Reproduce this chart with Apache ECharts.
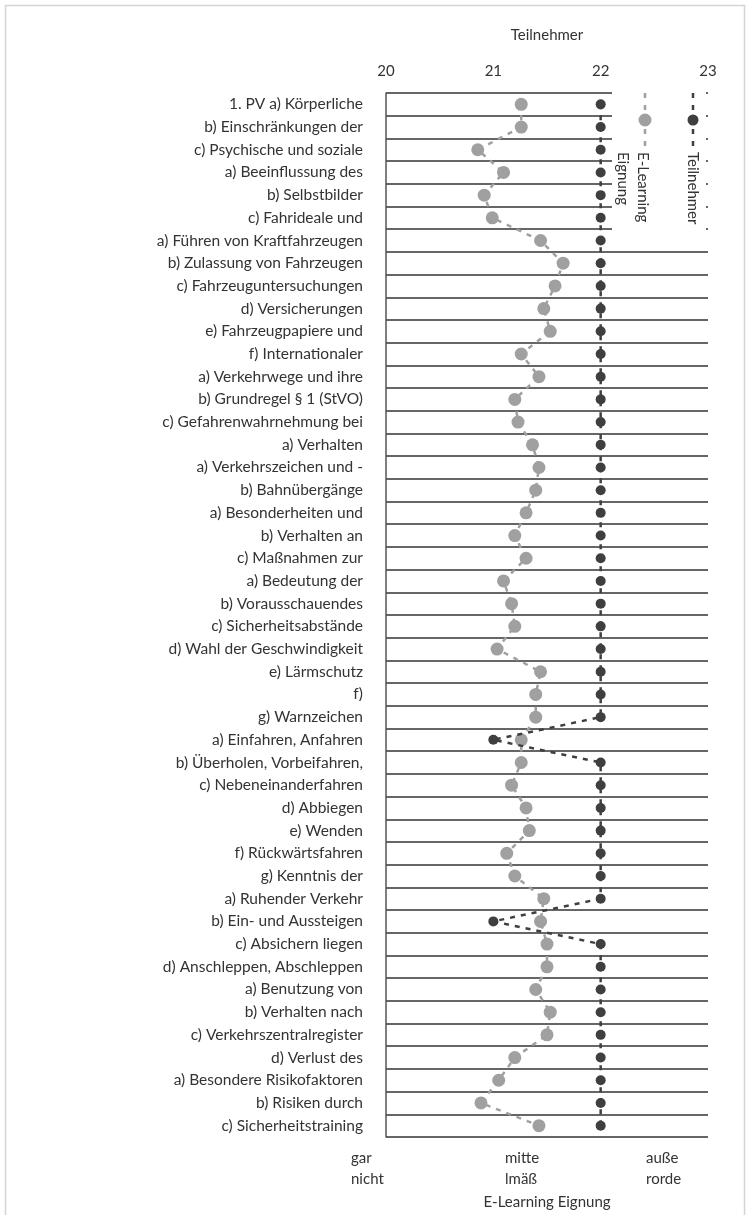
<!DOCTYPE html>
<html>
<head>
<meta charset="utf-8">
<script src="https://cdn.jsdelivr.net/npm/echarts@6/dist/echarts.min.js"></script>
<style>
  html, body { margin: 0; padding: 0; background: #ffffff; }
  #chart { width: 750px; height: 1215px; }
</style>
</head>
<body>
<div id="chart"></div>
<script>
// Lerninhalte (top to bottom)
const topics = [
  '1. PV a) Körperliche', 'b) Einschränkungen der', 'c) Psychische und soziale',
  'a) Beeinflussung des', 'b) Selbstbilder', 'c) Fahrideale und',
  'a) Führen von Kraftfahrzeugen', 'b) Zulassung von Fahrzeugen', 'c) Fahrzeuguntersuchungen',
  'd) Versicherungen', 'e) Fahrzeugpapiere und', 'f) Internationaler',
  'a) Verkehrwege und ihre', 'b) Grundregel § 1 (StVO)', 'c) Gefahrenwahrnehmung bei',
  'a) Verhalten', 'a) Verkehrszeichen und -', 'b) Bahnübergänge',
  'a) Besonderheiten und', 'b) Verhalten an', 'c) Maßnahmen zur',
  'a) Bedeutung der', 'b) Vorausschauendes', 'c) Sicherheitsabstände',
  'd) Wahl der Geschwindigkeit', 'e) Lärmschutz', 'f)',
  'g) Warnzeichen', 'a) Einfahren, Anfahren', 'b) Überholen, Vorbeifahren,',
  'c) Nebeneinanderfahren', 'd) Abbiegen', 'e) Wenden',
  'f) Rückwärtsfahren', 'g) Kenntnis der', 'a) Ruhender Verkehr',
  'b) Ein- und Aussteigen', 'c) Absichern liegen', 'd) Anschleppen, Abschleppen',
  'a) Benutzung von', 'b) Verhalten nach', 'c) Verkehrszentralregister',
  'd) Verlust des', 'a) Besondere Risikofaktoren', 'b) Risiken durch',
  'c) Sicherheitstraining'
];

// Mittlere E-Learning-Eignung (1 = gar nicht, 2 = mittelmäßig, 3 = außerordentlich)
const eLearning = [
  1.84, 1.84, 1.57, 1.73, 1.61, 1.66, 1.96, 2.10, 2.05, 1.98,
  2.02, 1.84, 1.95, 1.80, 1.82, 1.91, 1.95, 1.93, 1.87, 1.80,
  1.87, 1.73, 1.78, 1.80, 1.69, 1.96, 1.93, 1.93, 1.84, 1.84,
  1.78, 1.87, 1.89, 1.75, 1.80, 1.98, 1.96, 2.00, 2.00, 1.93,
  2.02, 2.00, 1.80, 1.70, 1.59, 1.95
];

// Anzahl Teilnehmer je Lerninhalt
const participants = [
  22, 22, 22, 22, 22, 22, 22, 22, 22, 22,
  22, 22, 22, 22, 22, 22, 22, 22, 22, 22,
  22, 22, 22, 22, 22, 22, 22, 22, 21, 22,
  22, 22, 22, 22, 22, 22, 21, 22, 22, 22,
  22, 22, 22, 22, 22, 22
];

// Beschriftung der Eignungsskala
const ratingLabels = { 1: 'gar\nnicht', 2: 'mitte\nlmäß', 3: 'auße\nrorde' };
const ratingStyle = { 1: 'a', 2: 'b', 3: 'c' };

const seriesNames = ['E-Learning Eignung', 'Teilnehmer'];
const colors = { eLearning: '#a0a0a0', participants: '#3f3f3f' };

const FONT = 'Lato';
const TEXT = '#333333';

const chart = echarts.init(document.getElementById('chart'), null, { renderer: 'canvas' });

chart.setOption({
  backgroundColor: '#ffffff',
  animation: false,
  textStyle: { fontFamily: FONT },
  grid: { left: 386, right: 42, top: 93, bottom: 78, containLabel: false, outerBoundsMode: 'none' },
  yAxis: {
    type: 'category',
    data: topics,
    inverse: true,
    boundaryGap: true,
    axisLine: { show: true, lineStyle: { color: '#555555', width: 1.5 } },
    axisTick: { show: false },
    axisLabel: { color: TEXT, fontSize: 15.5, fontFamily: FONT, margin: 23 },
    splitLine: { show: true, interval: 0, lineStyle: { color: '#333333', width: 1.6 } }
  },
  xAxis: [
    {
      type: 'value',
      position: 'top',
      min: 20, max: 23, interval: 1,
      name: 'Teilnehmer',
      nameLocation: 'middle',
      nameGap: 50,
      nameTextStyle: { color: TEXT, fontSize: 15, fontFamily: FONT },
      axisLine: { show: false },
      axisTick: { show: false },
      splitLine: { show: false },
      axisLabel: { color: TEXT, fontSize: 15, fontFamily: FONT, margin: 14 }
    },
    {
      type: 'value',
      position: 'bottom',
      min: 1, max: 3, interval: 1,
      name: 'E-Learning Eignung',
      nameLocation: 'middle',
      nameGap: 42,
      nameTextStyle: { color: TEXT, fontSize: 15, fontFamily: FONT },
      axisLine: { show: false },
      axisTick: { show: false },
      splitLine: { show: false },
      axisLabel: {
        color: TEXT, fontSize: 15, fontFamily: FONT, margin: 11,
        lineHeight: 21,
        formatter: v => {
          const key = ratingStyle[v];
          return ratingLabels[v].split('\n').map(s => '{' + key + '|' + s + '}').join('\n');
        },
        rich: {
          a: { width: 70, align: 'left', color: TEXT, fontSize: 15, fontFamily: FONT, lineHeight: 21 },
          b: { width: 84, align: 'left', color: TEXT, fontSize: 15, fontFamily: FONT, lineHeight: 21 },
          c: { width: 124, align: 'left', color: TEXT, fontSize: 15, fontFamily: FONT, lineHeight: 21 }
        }
      }
    }
  ],
  series: [
    {
      name: seriesNames[0],
      type: 'line',
      xAxisIndex: 1,
      data: eLearning,
      symbol: 'circle',
      symbolSize: 13,
      itemStyle: { color: colors.eLearning },
      lineStyle: { color: colors.eLearning, width: 2.5, type: [5, 6] },
      z: 3
    },
    {
      name: seriesNames[1],
      type: 'line',
      xAxisIndex: 0,
      data: participants,
      symbol: 'circle',
      symbolSize: 10,
      itemStyle: { color: colors.participants },
      lineStyle: { color: colors.participants, width: 2.5, type: [5, 6] },
      z: 4
    }
  ],
  graphic: [
    // outer frame
    { type: 'rect', z: 0, silent: true,
      shape: { x: 5.5, y: 5.5, width: 739, height: 1215 },
      style: { fill: 'none', stroke: '#d4d4d4', lineWidth: 1.5 } },
    // legend panel
    { type: 'rect', z: 100, silent: true,
      shape: { x: 612, y: 86, width: 94, height: 160 },
      style: { fill: '#ffffff' } },
    { type: 'line', z: 101, silent: true,
      shape: { x1: 645, y1: 93, x2: 645, y2: 147 },
      style: { stroke: colors.eLearning, lineWidth: 2.5, lineDash: [5, 7] } },
    { type: 'circle', z: 102, silent: true,
      shape: { cx: 645, cy: 120, r: 6.5 },
      style: { fill: colors.eLearning } },
    { type: 'text', z: 102, silent: true,
      x: 653, y: 152, rotation: -Math.PI / 2,
      style: { text: 'E-Learning\nEignung', fill: TEXT, font: '15px ' + FONT,
               textAlign: 'left', textVerticalAlign: 'top', lineHeight: 20 } },
    { type: 'line', z: 101, silent: true,
      shape: { x1: 693, y1: 93, x2: 693, y2: 147 },
      style: { stroke: colors.participants, lineWidth: 2.5, lineDash: [5, 7] } },
    { type: 'circle', z: 102, silent: true,
      shape: { cx: 693, cy: 120, r: 5.5 },
      style: { fill: colors.participants } },
    { type: 'text', z: 102, silent: true,
      x: 703, y: 152, rotation: -Math.PI / 2,
      style: { text: 'Teilnehmer', fill: TEXT, font: '15px ' + FONT,
               textAlign: 'left', textVerticalAlign: 'top', lineHeight: 20 } }
  ]
});
</script>
</body>
</html>
